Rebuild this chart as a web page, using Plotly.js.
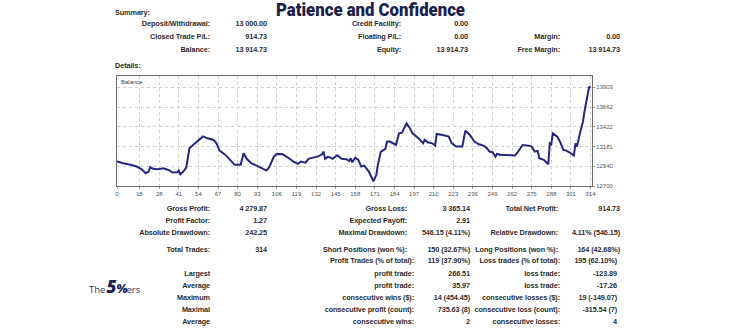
<!DOCTYPE html>
<html><head><meta charset="utf-8">
<script src="https://cdn.plot.ly/plotly-3.0.1.min.js"></script>
<style>
html,body{margin:0;padding:0;}
body{width:741px;height:329px;overflow:hidden;background:#fff;position:relative;font-family:"Liberation Sans",Arial,sans-serif;}
#chart{position:absolute;left:0;top:0;width:741px;height:329px;}
.t{position:absolute;white-space:nowrap;font-weight:bold;font-size:7.3px;color:#2e2e2e;line-height:1;letter-spacing:-0.1px;}
#title{position:absolute;white-space:nowrap;font-family:Roboto,"Open Sans",sans-serif;font-weight:900;font-size:17.5px;color:#1c1f4d;line-height:normal;transform-origin:left top;}
#logo{position:absolute;left:89px;top:278px;white-space:nowrap;font-family:"Open Sans",sans-serif;color:#2b3060;line-height:1;}
</style></head><body>
<div id="chart"></div>
<script>
// ---------------- DATA ----------------
const trades = [0,4,9,13,16,19,21,22,24,27,31,33,35,37,40,41,42,44,46,48,52,55,57,60,64,66,68,72,75,78,82,83,84,86,89,94,97,99,101,104,106,110,114,117,120,122,125,127,130,133,136,137,138,140,143,146,149,152,154,155,156,158,160,162,164,167,170,172,173,175,178,179,181,184,185,187,189,192,194,196,200,203,204,206,209,211,212,216,220,222,225,229,231,234,237,240,243,245,247,249,251,252,255,258,261,264,266,269,273,275,277,279,280,283,286,287,288,289,292,294,296,298,300,303,304,305,307,309,310,312,313,314];
const balance = [13000,12977,12958,12937,12909,12856,12876,12928,12909,12904,12916,12904,12888,12864,12868,12888,12843,12876,12928,13159,13220,13269,13304,13281,13261,13220,13131,13079,13018,12958,12958,13038,13099,13031,12977,12937,12909,12888,12930,13058,13091,13086,13038,12998,12970,12998,12985,13031,13046,13058,13086,13119,13031,13058,13031,13074,13031,13026,13006,13038,12989,13046,13018,12937,12949,12876,12758,12836,12958,13119,13152,13241,13241,13208,13200,13341,13350,13463,13411,13341,13281,13220,13261,13232,13220,13192,13334,13322,13301,13220,13180,13180,13374,13322,13241,13208,13192,13168,13119,13111,13058,13091,13079,13079,13071,13071,13119,13200,13192,13180,13119,13128,13038,13018,12965,13220,13208,13341,13301,13232,13140,13131,13111,13071,13220,13180,13341,13484,13605,13787,13900,13914.73];
const xTickVals = [0,15,28,41,54,67,80,93,106,119,132,145,158,171,184,197,210,223,236,249,262,275,288,301,314];
const yTickVals = [12700,12940,13181,13422,13662,13903];

const titleText = "Patience and Confidence";
const summaryRows = [
  ["Deposit/Withdrawal:", "13 000.00", "Credit Facility:", "0.00", "", ""],
  ["Closed Trade P/L:", "914.73", "Floating P/L:", "0.00", "Margin:", "0.00"],
  ["Balance:", "13 914.73", "Equity:", "13 914.73", "Free Margin:", "13 914.73"]
];
const statsRows = [
  ["Gross Profit:", "4 279.87", "Gross Loss:", "3 365.14", "Total Net Profit:", "914.73"],
  ["Profit Factor:", "1.27", "Expected Payoff:", "2.91", "", ""],
  ["Absolute Drawdown:", "242.25", "Maximal Drawdown:", "546.15 (4.11%)", "Relative Drawdown:", "4.11% (546.15)"],
  ["Total Trades:", "314", "Short Positions (won %):", "150 (32.67%)", "Long Positions (won %):", "164 (42.68%)"]
];
const tradeRows = [
  ["", "Profit Trades (% of total):", "119 (37.90%)", "Loss trades (% of total):", "195 (62.10%)"],
  ["Largest", "profit trade:", "266.51", "loss trade:", "-123.89"],
  ["Average", "profit trade:", "35.97", "loss trade:", "-17.26"],
  ["Maximum", "consecutive wins ($):", "14 (454.45)", "consecutive losses ($):", "19 (-149.07)"],
  ["Maximal", "consecutive profit (count):", "735.63 (8)", "consecutive loss (count):", "-315.54 (7)"],
  ["Average", "consecutive wins:", "2", "consecutive losses:", "4"]
];

// ---------------- LAYOUT (positions) ----------------
const summaryColRight = [210, 267, 401, 468, 560, 620];
const summaryRowY = [24, 36.7, 49.3];
const statsColRight = [210, 267, 407, 470, 558, 620];
const statsRowY = [208.3, 220.7, 232.7, 249.5];
const tradeColRight = [210, 414, 470, 560, 617];
const tradeRowY = [261, 273.3, 285.7, 297.7, 309.3, 321.7];

function placeRight(text, xr, yc) {
  if (!text) return;
  const d = document.createElement('div');
  d.className = 't';
  d.textContent = text;
  d.style.right = (741 - xr) + 'px';
  d.style.top = (yc - 3.65) + 'px';
  document.body.appendChild(d);
}
function placeLeft(text, xl, yc) {
  const d = document.createElement('div');
  d.className = 't';
  d.textContent = text;
  d.style.left = xl + 'px';
  d.style.top = (yc - 3.65) + 'px';
  document.body.appendChild(d);
}

placeLeft("Summary:", 115, 13);
summaryRows.forEach((row, i) => row.forEach((txt, j) => placeRight(txt, summaryColRight[j], summaryRowY[i])));
placeLeft("Details:", 115, 66);
statsRows.forEach((row, i) => row.forEach((txt, j) => placeRight(txt, statsColRight[j], statsRowY[i])));
tradeRows.forEach((row, i) => row.forEach((txt, j) => placeRight(txt, tradeColRight[j], tradeRowY[i])));

// title
const tt = document.createElement('div');
tt.id = 'title';
tt.textContent = titleText;
document.body.appendChild(tt);
const w = tt.getBoundingClientRect().width;
const targetW = 189;
tt.style.left = '276px';
tt.style.top = '0px';
tt.style.transform = 'scale(' + (targetW / w) + ',1)';

// logo
const logo = document.createElement('div');
logo.id = 'logo';
logo.innerHTML = '<span style="font-size:9.5px;">The</span><span style="font-size:17px;font-weight:800;font-style:italic;color:#1c1f4d;margin-left:1px;">5</span><span style="font-size:12px;font-weight:800;font-style:italic;color:#1c1f4d;">%</span><span style="font-size:9.5px;margin-left:-1px;">ers</span>';
document.body.appendChild(logo);

// ---------------- CHART ----------------
const trace = {
  x: trades, y: balance, type: 'scatter', mode: 'lines',
  line: {color: '#262680', width: 2},
  hoverinfo: 'skip'
};
const axisFont = {family: 'Liberation Sans, Arial, sans-serif', size: 6, color: '#555'};
const layout = {
  width: 741, height: 329,
  margin: {l: 117, r: 149, t: 76, b: 143, pad: 0},
  paper_bgcolor: 'rgba(0,0,0,0)', plot_bgcolor: '#fff',
  showlegend: false,
  xaxis: {
    range: [0, 315], tickmode: 'array', tickvals: xTickVals, ticktext: xTickVals.map(String),
    showgrid: true, gridcolor: '#cfcfcf', griddash: 'dot', gridwidth: 1,
    showline: true, linecolor: '#6e6e6e', linewidth: 1, mirror: true,
    ticks: 'outside', ticklen: 2, tickcolor: '#999', tickfont: axisFont,
    zeroline: false, fixedrange: true
  },
  yaxis: {
    range: [12700, 14040], side: 'right', tickmode: 'array', tickvals: yTickVals,
    ticktext: yTickVals.map(String),
    showgrid: true, gridcolor: '#cfcfcf', griddash: 'dot', gridwidth: 1,
    showline: true, linecolor: '#6e6e6e', linewidth: 1, mirror: true,
    ticks: 'outside', ticklen: 2, tickcolor: '#999', tickfont: axisFont,
    zeroline: false, fixedrange: true
  },
  annotations: [{
    text: 'Balance', xref: 'paper', yref: 'paper', x: 0, y: 1,
    xanchor: 'left', yanchor: 'top', xshift: 2, yshift: -1, showarrow: false,
    font: {family: 'Liberation Sans, Arial, sans-serif', size: 6, color: '#444'}
  }]
};
Plotly.newPlot('chart', [trace], layout, {staticPlot: true, displayModeBar: false});
</script>
</body></html>
